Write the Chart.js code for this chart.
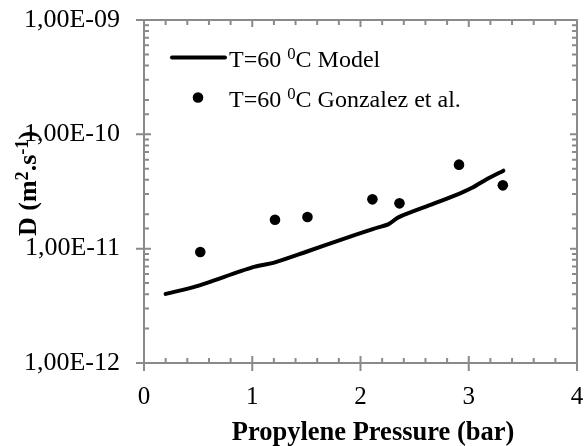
<!DOCTYPE html>
<html>
<head>
<meta charset="utf-8">
<script src="https://cdn.jsdelivr.net/npm/chart.js@4/dist/chart.umd.min.js"></script>
<style>
  html, body { margin: 0; padding: 0; background: #fff; }
  #wrap { width: 585px; height: 446px; position: relative; }
</style>
</head>
<body>
<div id="wrap"><canvas id="diffChart"></canvas></div>
<script>
// model curve, T = 60 C
const modelPressure = [0.20, 0.48, 1.00, 1.21, 1.50, 1.81, 2.12, 2.26, 2.35, 2.67, 2.92, 3.04, 3.17, 3.32];
const modelD = [4.02e-12, 4.68e-12, 6.86e-12, 7.59e-12, 9.4e-12, 1.19e-11, 1.49e-11, 1.64e-11, 1.88e-11, 2.46e-11, 3.05e-11, 3.44e-11, 4.07e-11, 4.81e-11];

// experimental points (Gonzalez et al.)
const expPressure = [0.52, 1.21, 1.51, 2.11, 2.36, 2.91, 3.315];
const expD = [9.35e-12, 1.79e-11, 1.89e-11, 2.70e-11, 2.49e-11, 5.43e-11, 3.58e-11];

const xTickLabels = ['0', '1', '2', '3', '4'];
const yTickLabels = ['1,00E-12', '1,00E-11', '1,00E-10', '1,00E-09'];

const axisGray = '#8a8a8a';
const serif = "'Liberation Serif', 'Times New Roman', serif";

function isDecade(v) {
  const l = Math.log10(v);
  return Math.abs(l - Math.round(l)) < 1e-6;
}

// no label overflow padding, the frame is placed by layout.padding only
function noOverflow(s) {
  s.paddingLeft = 0;
  s.paddingRight = 0;
  s.paddingTop = 0;
  s.paddingBottom = 0;
}

// draw text with superscript parts
function drawRich(ctx, segs, x, y, size, weight, align) {
  const supScale = 0.7;
  let total = 0;
  segs.forEach((s) => {
    ctx.font = `${weight} ${s.sup ? size * supScale : size}px ${serif}`;
    total += ctx.measureText(s.t).width;
  });
  let cx = align === 'center' ? x - total / 2 : x;
  ctx.textAlign = 'left';
  ctx.textBaseline = 'alphabetic';
  segs.forEach((s) => {
    ctx.font = `${weight} ${s.sup ? size * supScale : size}px ${serif}`;
    ctx.fillText(s.t, cx, s.sup ? y - size * 0.3 : y);
    cx += ctx.measureText(s.t).width;
  });
}

const framePlugin = {
  id: 'frame',
  beforeDatasetsDraw(chart) {
    const { ctx, chartArea: a, scales } = chart;
    ctx.save();
    ctx.strokeStyle = axisGray;
    ctx.lineWidth = 2;
    ctx.strokeRect(a.left, a.top, a.right - a.left, a.bottom - a.top);
    ctx.beginPath();
    scales.x.ticks.forEach((t) => {
      const px = scales.x.getPixelForValue(t.value);
      const major = Math.abs(t.value - Math.round(t.value)) < 1e-6;
      if (major) {
        ctx.moveTo(px, a.bottom + 8); ctx.lineTo(px, a.bottom - 7);
        ctx.moveTo(px, a.top); ctx.lineTo(px, a.top + 7);
      } else {
        ctx.moveTo(px, a.bottom); ctx.lineTo(px, a.bottom - 5);
        ctx.moveTo(px, a.top); ctx.lineTo(px, a.top + 5);
      }
    });
    scales.y.ticks.forEach((t) => {
      const py = scales.y.getPixelForValue(t.value);
      if (isDecade(t.value)) {
        ctx.moveTo(a.left - 8, py); ctx.lineTo(a.left + 7, py);
        ctx.moveTo(a.right, py); ctx.lineTo(a.right - 7, py);
      } else {
        ctx.moveTo(a.left, py); ctx.lineTo(a.left + 5, py);
        ctx.moveTo(a.right, py); ctx.lineTo(a.right - 5, py);
      }
    });
    ctx.stroke();
    ctx.restore();
  },
  afterDraw(chart) {
    const { ctx } = chart;
    ctx.save();
    ctx.fillStyle = '#000';
    // legend
    ctx.strokeStyle = '#000';
    ctx.lineWidth = 4;
    ctx.lineCap = 'round';
    ctx.beginPath();
    ctx.moveTo(172, 57.5); ctx.lineTo(225, 57.5);
    ctx.stroke();
    ctx.beginPath();
    ctx.arc(198, 97.5, 5.3, 0, Math.PI * 2);
    ctx.fill();
    drawRich(ctx, [{ t: 'T=60 ' }, { t: '0', sup: true }, { t: 'C Model' }], 229, 66.5, 24, 'normal', 'left');
    drawRich(ctx, [{ t: 'T=60 ' }, { t: '0', sup: true }, { t: 'C Gonzalez et al.' }], 229, 106.5, 24, 'normal', 'left');
    // axis titles
    drawRich(ctx, [{ t: 'Propylene Pressure (bar)' }], 373, 440, 26.5, 'bold', 'center');
    ctx.translate(36, 183.5);
    ctx.rotate(-Math.PI / 2);
    drawRich(ctx, [{ t: 'D (m' }, { t: '2', sup: true }, { t: '.s' }, { t: '-1', sup: true }, { t: ')' }], 0, 0, 26, 'bold', 'center');
    ctx.restore();
  }
};

const ctx = document.getElementById('diffChart').getContext('2d');
new Chart(ctx, {
  type: 'scatter',
  data: {
    datasets: [{
      label: 'T=60 0C Model',
      data: modelPressure.map((p, i) => ({ x: p, y: modelD[i] })),
      showLine: true,
      borderColor: '#000',
      borderWidth: 4,
      borderCapStyle: 'round',
      tension: 0.25,
      pointRadius: 0,
      fill: false
    }, {
      label: 'T=60 0C Gonzalez et al.',
      data: expPressure.map((p, i) => ({ x: p, y: expD[i] })),
      backgroundColor: '#000',
      borderWidth: 0,
      pointRadius: 5.3
    }]
  },
  options: {
    responsive: true,
    maintainAspectRatio: false,
    animation: false,
    layout: { padding: { top: 20, right: 8, left: 0, bottom: 0 } },
    plugins: { legend: { display: false }, tooltip: { enabled: false } },
    scales: {
      x: {
        type: 'linear',
        min: 0,
        max: 4,
        grid: { display: false, drawTicks: false },
        border: { display: false },
        afterFit: (s) => { s.height = 83; noOverflow(s); },
        ticks: {
          stepSize: 0.2,
          autoSkip: false,
          maxRotation: 0,
          padding: 19,
          color: '#000',
          font: { family: serif, size: 25 },
          callback: (v) => {
            const r = Math.round(v);
            return Math.abs(v - r) < 1e-6 ? xTickLabels[r] : '';
          }
        }
      },
      y: {
        type: 'logarithmic',
        min: 1e-12,
        max: 1e-9,
        grid: { display: false, drawTicks: false },
        border: { display: false },
        afterFit: (s) => { s.width = 144; noOverflow(s); },
        ticks: {
          autoSkip: false,
          padding: 24,
          color: '#000',
          font: { family: serif, size: 26 },
          callback: (v) => isDecade(v) ? yTickLabels[Math.round(Math.log10(v)) + 12] : ''
        }
      }
    }
  },
  plugins: [framePlugin]
});
</script>
</body>
</html>
